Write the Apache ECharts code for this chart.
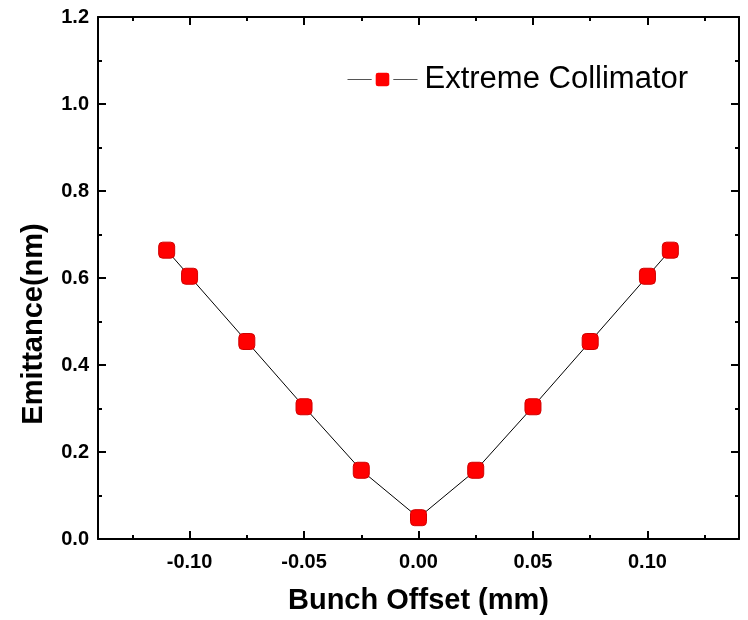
<!DOCTYPE html>
<html><head><meta charset="utf-8">
<script src="https://cdn.jsdelivr.net/npm/echarts@6/dist/echarts.min.js"></script>
<style>html,body{margin:0;padding:0;background:#fff}#c{width:748px;height:620px}</style>
</head><body><div id="c"></div>
<script>
const offsets = [-0.11, -0.10, -0.075, -0.05, -0.025, 0.0, 0.025, 0.05, 0.075, 0.10, 0.11];
const emittance = [0.664, 0.604, 0.454, 0.304, 0.158, 0.049, 0.158, 0.304, 0.454, 0.604, 0.664];
const xMajor = [-0.10, -0.05, 0.0, 0.05, 0.10];
const xMinor = [-0.125, -0.075, -0.025, 0.025, 0.075, 0.125];
const seriesName = 'Extreme Collimator';

const font = 'Arial, "Liberation Sans", sans-serif';
function xAx(pos, vals, len, labels, showLine) {
  return {
    type: 'value', position: pos, min: -0.14, max: 0.14,
    axisLine: {show: showLine, onZero: false, lineStyle: {color: '#000', width: 2}},
    axisTick: {show: true, inside: true, length: len, customValues: vals, lineStyle: {color: '#000', width: 2}},
    axisLabel: labels ? {show: true, customValues: vals, margin: 13, color: '#000', fontFamily: font, fontWeight: 'bold', fontSize: 20,
      formatter: v => (Math.abs(v) < 1e-9 ? '0.00' : v.toFixed(2))} : {show: false},
    splitLine: {show: false}
  };
}
function yAx(pos, labels) {
  return {
    type: 'value', position: pos, min: 0, max: 1.2, interval: 0.2,
    axisLine: {show: true, onZero: false, lineStyle: {color: '#000', width: 2}},
    axisTick: {show: true, inside: true, length: 8, lineStyle: {color: '#000', width: 2}},
    minorTick: {show: true, splitNumber: 2, length: 4, lineStyle: {color: '#000', width: 2}},
    axisLabel: labels ? {show: true, margin: 9, color: '#000', fontFamily: font, fontWeight: 'bold', fontSize: 20,
      formatter: v => v.toFixed(1)} : {show: false},
    splitLine: {show: false}, minorSplitLine: {show: false},
    name: labels ? 'Emittance(nm)' : '', nameLocation: 'middle', nameGap: 50,
    nameTextStyle: {color: '#000', fontFamily: font, fontWeight: 'bold', fontSize: 29, padding: [0, 92, 0, 0]}
  };
}
const xAxes = [
  Object.assign(xAx('bottom', xMajor, 8, true, true), {name: 'Bunch Offset (mm)', nameLocation: 'middle', nameGap: 47,
    nameTextStyle: {color: '#000', fontFamily: font, fontWeight: 'bold', fontSize: 29}}),
  xAx('bottom', xMinor, 4, false, false),
  xAx('top', xMajor, 8, false, true),
  xAx('top', xMinor, 4, false, false)
];
const chart = echarts.init(document.getElementById('c'), null, {renderer: 'canvas'});
chart.setOption({
  animation: false,
  backgroundColor: '#fff',
  grid: {left: 98, right: 9, top: 17, bottom: 79, containLabel: false},
  legend: {
    show: true, left: 342, top: 59, itemWidth: 70, itemHeight: 22,
    data: [seriesName],
    itemStyle: {color: '#ff0000', borderColor: '#fff', borderWidth: 4},
    lineStyle: {color: '#555', width: 1},
    textStyle: {color: '#000', fontFamily: font, fontSize: 31, padding: [0, 0, 0, 2]}
  },
  xAxis: xAxes,
  yAxis: [yAx('left', true), yAx('right', false)],
  series: [{
    name: seriesName, type: 'line', xAxisIndex: 0, yAxisIndex: 0,
    data: offsets.map((x, i) => [x, emittance[i]]),
    symbol: 'roundRect', symbolSize: 16,
    itemStyle: {color: '#ff0000', borderColor: '#d00000', borderWidth: 1},
    lineStyle: {color: '#000', width: 1}
  }]
});
</script></body></html>
